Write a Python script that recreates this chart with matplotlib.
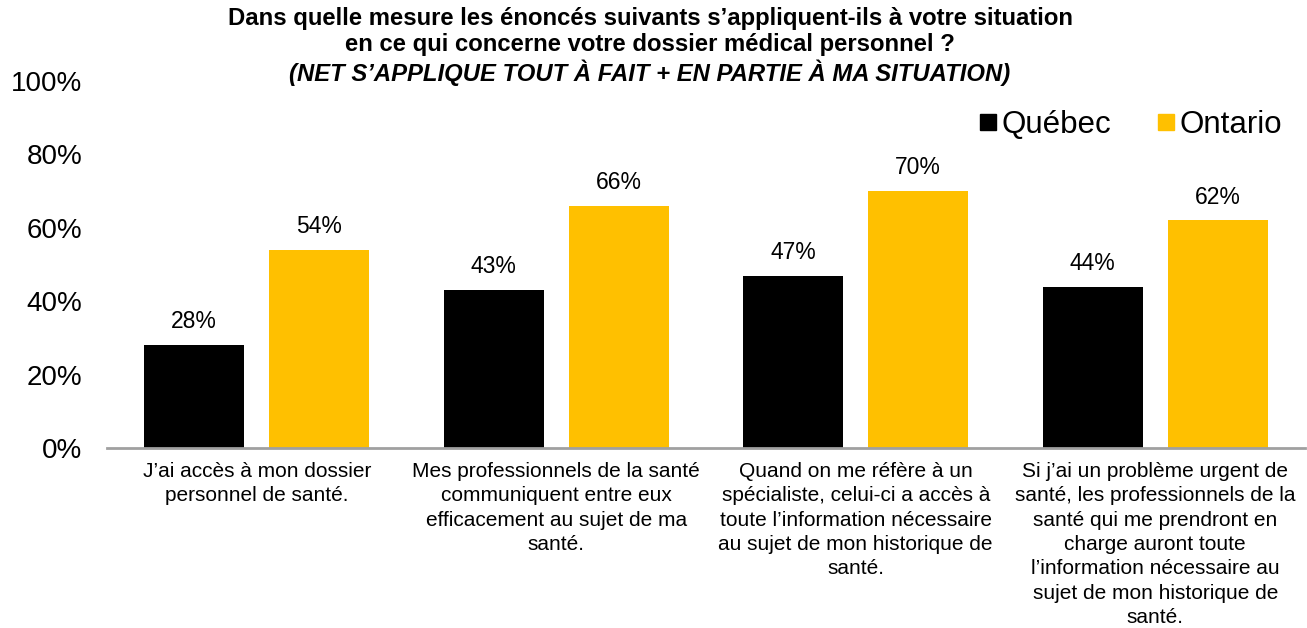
import matplotlib
matplotlib.use('Agg')
import matplotlib.pyplot as plt
import numpy as np
from matplotlib.lines import Line2D

# -------------------------------------------------------------------------------------------------------------------- #
# Data
# -------------------------------------------------------------------------------------------------------------------- #

categories = [
    'J\u2019ai accès à mon dossier\npersonnel de santé.',
    'Mes professionnels de la santé\ncommuniquent entre eux\nefficacement au sujet de ma\nsanté.',
    'Quand on me réfère à un\nspécialiste, celui-ci a accès à\ntoute l\u2019information nécessaire\nau sujet de mon historique de\nsanté.',
    'Si j\u2019ai un problème urgent de\nsanté, les professionnels de la\nsanté qui me prendront en\ncharge auront toute\nl\u2019information nécessaire au\nsujet de mon historique de\nsanté.',
]
quebec = [28, 43, 47, 44]
ontario = [54, 66, 70, 62]
series_names = ['Québec', 'Ontario']
yticks = [0, 20, 40, 60, 80, 100]

title_lines = [
    'Dans quelle mesure les énoncés suivants s\u2019appliquent-ils à votre situation',
    'en ce qui concerne votre dossier médical personnel ?',
    '(NET S\u2019APPLIQUE TOUT À FAIT + EN PARTIE À MA SITUATION)',
]

# -------------------------------------------------------------------------------------------------------------------- #
# Plot
# -------------------------------------------------------------------------------------------------------------------- #

plt.rcParams['font.family'] = ['Liberation Sans', 'DejaVu Sans']

black = '#000000'
yellow = '#FFC000'

fig = plt.figure(figsize=(13.07, 6.28), dpi=100)
ax = fig.add_axes([107 / 1307, 1 - 448 / 628, 1198 / 1307, 367 / 628])

x = np.arange(len(categories))
width = 0.333
offset = 0.2085

bars_q = ax.bar(x - offset, quebec, width, color=black)
bars_o = ax.bar(x + offset, ontario, width, color=yellow)

for bars, vals in [(bars_q, quebec), (bars_o, ontario)]:
    for b, v in zip(bars, vals):
        ax.text(b.get_x() + b.get_width() / 2, v + 3.2, f'{v}%', ha='center', va='bottom',
                fontsize=16.5, color='#000000')

ax.set_xlim(-0.5, len(categories) - 0.5)
ax.set_ylim(0, 100)
ax.set_yticks(yticks)
ax.set_yticklabels([f'{t}%' for t in yticks], fontsize=20)
ax.set_xticks(x)
ax.set_xticklabels(categories, fontsize=15, linespacing=1.36, va='top')
ax.tick_params(axis='both', length=0)
ax.tick_params(axis='y', pad=18)
ax.tick_params(axis='x', pad=10)

for s in ['top', 'right', 'left']:
    ax.spines[s].set_visible(False)
ax.spines['bottom'].set_color('#A0A0A0')
ax.spines['bottom'].set_linewidth(2)

# Legend
handles = [Line2D([], [], marker='s', linestyle='none', markersize=12, color=black),
           Line2D([], [], marker='s', linestyle='none', markersize=12, color=yellow)]
fig.legend(handles, series_names, loc='center right', bbox_to_anchor=(1 - 12 / 1307, 1 - 125 / 628),
           ncol=2, frameon=False, fontsize=22.5, handletextpad=0.05, columnspacing=1.34,
           handlelength=0.8, borderaxespad=0)

# Title
ys = [18, 45, 73]
for i, (line, yy) in enumerate(zip(title_lines, ys)):
    fig.text(650 / 1307, 1 - yy / 628, line, ha='center', va='center', fontsize=17.2,
             fontweight='bold', style='italic' if i == 2 else 'normal')

plt.savefig('out.png', dpi=100)
